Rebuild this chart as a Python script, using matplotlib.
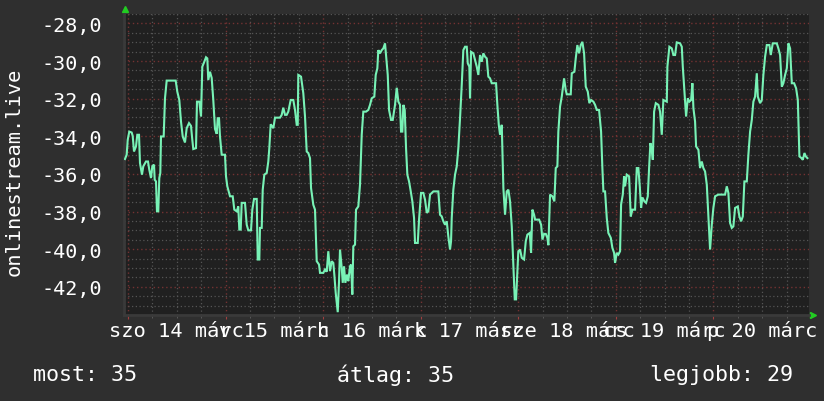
import matplotlib
matplotlib.use("Agg")
import matplotlib.pyplot as plt
import numpy as np

# ---- data: hours since Sat 14 March 00:00, temperature-like values ----
hours = [-0.74, -0.32, -0.07, 0.32, 0.91, 1.16, 1.48, 1.97, 2.29, 2.71, 2.95, 3.44, 3.76, 4.43, 4.92,
         5.24, 5.66, 5.98, 6.40, 6.57, 6.89, 7.13, 7.45, 7.70, 7.95, 8.12, 8.78, 9.10, 9.52, 11.73,
         12.13, 12.62, 13.04, 13.46, 14.02, 14.44, 15.01, 15.50, 15.82, 16.06, 16.73, 16.97, 17.54, 17.96, 18.28,
         18.77, 19.19, 19.51, 19.75, 20.17, 20.59, 20.98, 21.40, 21.82, 22.07, 22.39, 22.63, 23.05, 23.86, 24.11,
         24.43, 25.09, 25.76, 26.15, 26.74, 27.13, 27.38, 27.72, 27.97, 28.78, 29.20, 29.59, 30.26, 30.58, 31.00,
         31.66, 31.91, 32.30, 32.47, 32.89, 33.14, 33.53, 34.12, 34.51, 34.76, 35.10, 35.75, 36.16, 37.39, 37.81,
         38.20, 38.62, 39.04, 39.43, 40.02, 40.66, 41.08, 41.50, 41.75, 41.89, 42.56, 43.12, 43.54, 43.96, 44.35,
         44.77, 45.02, 45.58, 46.00, 46.42, 46.99, 47.23, 48.04, 48.46, 48.88, 49.27, 49.69, 50.11, 50.50, 50.75,
         51.09, 51.59, 51.91, 52.15, 52.57, 52.82, 53.14, 53.46, 53.87, 54.19, 54.61, 54.86, 55.18, 55.42, 55.84,
         56.09, 56.65, 57.07, 57.49, 57.88, 58.55, 59.11, 59.53, 59.95, 60.59, 60.93, 61.33, 61.57, 61.99, 62.41,
         62.80, 63.22, 63.47, 63.89, 64.21, 64.70, 65.12, 65.68, 66.10, 66.50, 66.91, 67.16, 67.48, 67.73, 68.07,
         68.39, 68.71, 69.13, 69.55, 69.94, 70.36, 70.60, 71.27, 71.59, 72.08, 72.64, 73.06, 73.48, 73.87, 74.29,
         75.11, 76.33, 76.75, 77.17, 77.56, 77.98, 78.40, 78.79, 79.21, 79.46, 79.63, 80.02, 80.44, 80.86, 81.25,
         81.67, 82.09, 82.48, 82.90, 83.32, 83.57, 83.96, 84.13, 84.38, 84.94, 85.36, 85.78, 86.17, 86.59, 87.01,
         87.40, 87.82, 88.24, 88.63, 89.05, 89.47, 90.53, 90.85, 91.20, 91.51, 91.93, 92.33, 92.74, 93.16, 93.56,
         93.97, 94.39, 94.78, 95.13, 95.45, 95.69, 96.01, 96.43, 96.85, 97.42, 97.84, 98.23, 98.82, 99.14, 99.47,
         99.89, 100.13, 101.12, 101.61, 101.93, 102.34, 102.76, 103.15, 103.40, 103.81, 104.38, 104.87, 105.21, 105.61, 105.85,
         106.27, 106.69, 107.26, 107.67, 107.92, 108.90, 109.15, 109.79, 110.13, 110.53, 110.95, 111.36, 111.76, 112.18, 112.59,
         113.09, 113.48, 113.90, 114.47, 114.88, 115.30, 115.87, 116.36, 116.68, 116.93, 117.34, 117.76, 118.15, 118.75, 119.14,
         119.56, 119.80, 120.22, 120.61, 121.03, 121.28, 121.70, 122.02, 122.26, 122.68, 123.25, 123.66, 124.06, 124.72, 125.14,
         125.53, 125.88, 126.20, 126.52, 127.01, 127.43, 127.85, 128.17, 128.49, 128.83, 129.08, 129.40, 129.82, 130.46, 130.87,
         131.29, 131.68, 132.52, 132.67, 133.16, 133.75, 134.14, 134.56, 134.98, 135.79, 136.21, 136.46, 136.78, 137.27, 137.69,
         138.08, 138.50, 138.82, 139.07, 139.48, 139.73, 140.30, 140.71, 141.13, 141.52, 141.94, 142.36, 142.75, 143.17, 143.59,
         143.98, 144.40, 145.21, 146.86, 147.28, 147.67, 148.09, 148.51, 148.90, 149.32, 149.99, 150.38, 150.80, 151.22, 151.61,
         152.20, 152.59, 153.01, 153.43, 153.82, 154.24, 154.66, 154.91, 155.47, 155.89, 156.28, 156.70, 157.12, 157.76, 158.10,
         158.59, 159.58, 159.97, 160.39, 160.81, 161.20, 161.62, 162.04, 162.43, 162.85, 163.27, 163.84, 164.33, 164.75, 165.14,
         165.64, 165.98, 166.38, 166.72, 167.11]

values = [-35.21, -34.98, -34.19, -33.75, -33.80, -33.98, -34.81, -34.54, -33.92, -33.92, -35.42, -36.04, -35.60, -35.34, -35.34,
          -35.78, -36.22, -35.60, -35.51, -36.31, -36.40, -37.99, -37.99, -36.22, -35.95, -34.01, -34.01, -31.98, -31.04, -31.04,
          -31.63, -32.07, -33.22, -34.01, -34.33, -33.57, -33.30, -33.45, -34.19, -34.68, -34.63, -32.16, -32.16, -32.95, -30.30,
          -30.04, -29.80, -29.86, -31.01, -30.57, -30.90, -32.07, -33.61, -33.87, -33.04, -33.04, -34.01, -34.98, -34.98, -36.13,
          -36.66, -37.19, -37.19, -37.90, -37.99, -37.73, -38.96, -38.96, -37.54, -37.54, -38.70, -39.00, -39.00, -37.90, -37.33,
          -37.33, -40.55, -40.55, -38.87, -38.87, -36.84, -36.04, -35.95, -35.34, -34.63, -33.36, -33.57, -33.01, -33.01, -32.86,
          -32.48, -32.86, -32.86, -32.69, -32.07, -32.07, -32.60, -33.39, -33.39, -30.74, -30.83, -31.71, -32.95, -34.81, -34.89,
          -35.16, -36.75, -37.64, -37.90, -40.64, -40.82, -41.26, -41.26, -41.08, -41.20, -40.11, -41.17, -40.64, -40.73, -41.35,
          -42.32, -43.35, -41.70, -40.02, -40.99, -41.79, -40.91, -41.79, -41.35, -41.70, -40.91, -40.82, -42.41, -39.85, -39.76,
          -37.90, -37.73, -36.57, -33.92, -32.69, -32.69, -32.60, -32.33, -31.98, -31.89, -30.74, -30.39, -29.42, -29.59, -29.42,
          -29.33, -29.06, -29.68, -30.74, -32.60, -33.13, -33.13, -32.33, -31.42, -32.16, -32.33, -33.75, -33.75, -32.33, -32.60,
          -34.63, -36.04, -36.40, -36.93, -37.46, -38.34, -39.67, -39.67, -38.43, -37.01, -37.01, -37.37, -38.07, -37.99, -37.10,
          -36.93, -36.93, -38.17, -38.26, -38.52, -38.70, -38.52, -39.32, -40.02, -39.58, -38.34, -36.84, -36.04, -35.60, -34.63,
          -33.04, -31.27, -29.42, -29.24, -29.24, -30.12, -30.30, -31.98, -29.51, -29.59, -29.95, -30.30, -30.74, -29.68, -30.04,
          -29.59, -29.77, -29.86, -30.83, -30.92, -31.18, -31.18, -32.33, -33.39, -33.92, -33.39, -36.75, -38.17, -36.93, -36.84,
          -37.46, -38.79, -40.91, -42.67, -42.67, -41.52, -40.11, -40.02, -40.46, -40.55, -39.58, -39.23, -39.14, -40.20, -37.90,
          -38.17, -38.43, -38.43, -38.70, -39.49, -39.19, -39.19, -39.40, -39.79, -37.10, -37.19, -37.46, -35.69, -35.60, -33.75,
          -32.42, -31.89, -30.92, -31.54, -31.77, -31.77, -30.65, -30.57, -29.86, -29.15, -29.59, -29.15, -28.98, -29.59, -31.36,
          -31.63, -32.24, -32.07, -32.16, -32.33, -32.60, -32.60, -33.75, -35.69, -36.93, -36.93, -38.34, -39.14, -39.40, -39.93,
          -40.20, -40.73, -40.20, -40.29, -40.11, -37.63, -37.10, -36.13, -36.66, -36.04, -36.13, -38.26, -37.90, -37.90, -35.69,
          -35.69, -36.66, -37.81, -37.25, -37.46, -37.54, -37.19, -35.69, -34.36, -34.72, -35.25, -32.69, -32.24, -32.33, -32.69,
          -33.92, -32.07, -32.16, -30.30, -29.24, -29.33, -29.68, -29.68, -29.01, -29.06, -29.24, -30.30, -31.36, -32.95, -31.98,
          -32.16, -32.07, -31.18, -32.51, -33.22, -34.54, -34.72, -35.69, -35.34, -35.69, -35.87, -36.57, -38.26, -40.02, -38.70,
          -37.81, -37.19, -37.10, -37.10, -36.66, -37.01, -38.61, -38.87, -38.79, -37.81, -37.73, -38.26, -38.52, -38.26, -36.40,
          -36.40, -34.98, -33.75, -33.13, -32.16, -31.89, -30.65, -31.89, -32.24, -32.07, -30.74, -29.77, -29.15, -29.15, -29.68,
          -29.06, -29.06, -29.33, -29.68, -31.36, -31.18, -30.74, -30.39, -29.06, -29.33, -31.18, -31.18, -31.45, -32.07, -35.07,
          -35.16, -35.25, -34.89, -35.07, -35.16]

day_labels = ["szo 14 márc", "v 15 márc", "h 16 márc", "k 17 márc",
              "sze 18 márc", "cs 19 márc", "p 20 márc"]
y_ticks = [-42, -40, -38, -36, -34, -32, -30, -28]
y_label = "onlinestream.live"
legend_items = ["most: 35", "átlag: 35", "legjobb: 29"]

# ---- style ----
BG = "#2f2f2f"
PLOT_BG = "#202020"
LINE = "#78f2b6"
MINOR = "#555555"
MAJOR = "#743232"
TXT = "#ffffff"
FONT = "DejaVu Sans Mono"
FS_Y = 14.5
FS_X = 14.7
FS_L = 15.6

W, H = 824, 402
fig = plt.figure(figsize=(W / 100, H / 100), dpi=100, facecolor=BG)
L, R, T, B = 124, 809, 15, 316
ax = fig.add_axes([L / W, (H - B) / H, (R - L) / W, (B - T) / H])
ax.set_facecolor(PLOT_BG)

ax.set_xlim(-0.98, 167.5)
ax.set_ylim(-43.5, -27.5)

# grid
ax.set_xticks(np.arange(0, 168, 24))
ax.set_xticks(np.arange(0, 168, 6), minor=True)
ax.set_yticks(y_ticks)
ax.set_yticks(np.arange(-43.5, -27.4, 0.5), minor=True)
ax.grid(which="minor", color=MINOR, linestyle=(0, (1, 2)), linewidth=0.9)
ax.grid(which="major", color=MAJOR, linestyle=(0, (1, 2)), linewidth=1.0)
ax.set_axisbelow(True)

ax.set_xticklabels([])
ax.set_yticklabels([f"{v:.1f}".replace(".", ",") for v in y_ticks],
                   fontfamily=FONT, fontsize=FS_Y, color=TXT)
ax.tick_params(axis="y", which="both", length=0, pad=16)
ax.tick_params(axis="x", which="major", length=3, color="#a04040", direction="out")
ax.tick_params(axis="x", which="minor", length=2, color="#606060", direction="out")

for s in ["top", "right"]:
    ax.spines[s].set_visible(False)
for s in ["left", "bottom"]:
    ax.spines[s].set_color("#3a3a3a")
    ax.spines[s].set_linewidth(2)

ax.plot(hours, values, color=LINE, linewidth=1.5, solid_joinstyle="miter", zorder=3)

# day labels centred at noon
for i, lab in enumerate(day_labels):
    ax.text(12 + 24 * i, -0.05, lab, transform=ax.get_xaxis_transform(),
            ha="center", va="center", fontfamily=FONT, fontsize=FS_X, color=TXT)

# arrows
ax.plot([0.0015], [1.015], marker="^", color="#22cc22", markersize=4,
        transform=ax.transAxes, clip_on=False)
ax.plot([1.006], [0.0], marker=">", color="#22cc22", markersize=4,
        transform=ax.transAxes, clip_on=False)

fig.text(14 / W, 1 - 172 / H, y_label, rotation=90, ha="center", va="center",
         fontfamily=FONT, fontsize=FS_X, color=TXT)

xs = [33, 337, 650]
for x, t in zip(xs, legend_items):
    fig.text(x / W, 1 - 375 / H, t, ha="left", va="center",
             fontfamily=FONT, fontsize=FS_L, color=TXT)

fig.savefig("out.png", dpi=100, facecolor=BG)
